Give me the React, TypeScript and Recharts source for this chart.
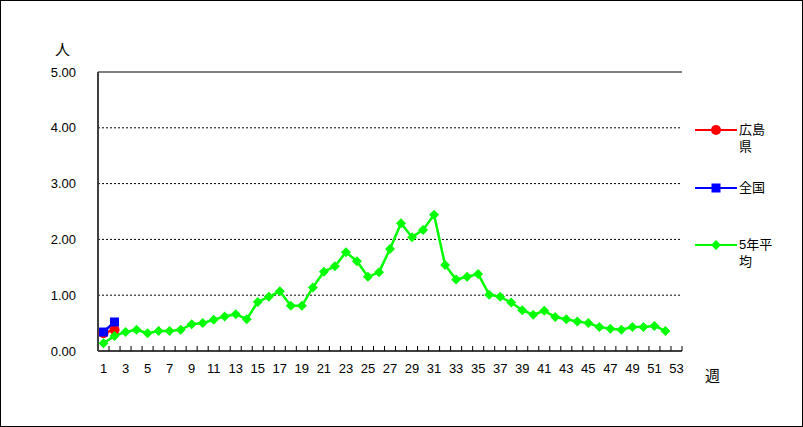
import { LineChart, Line, XAxis, YAxis, CartesianGrid, ReferenceLine } from "recharts";

const weeks = Array.from({ length: 53 }, (_, i) => i + 1);
const hiroshima = [0.32, 0.38];
const zenkoku = [0.34, 0.52];
const avg5 = [
  0.14, 0.27, 0.34, 0.38, 0.32, 0.36, 0.36, 0.38, 0.48, 0.5,
  0.56, 0.62, 0.66, 0.57, 0.88, 0.97, 1.07, 0.81, 0.81, 1.14,
  1.42, 1.52, 1.77, 1.61, 1.33, 1.41, 1.83, 2.29, 2.04, 2.17,
  2.44, 1.54, 1.28, 1.33, 1.38, 1.01, 0.97, 0.87, 0.73, 0.65,
  0.72, 0.61, 0.57, 0.53, 0.5, 0.43, 0.4, 0.38, 0.43, 0.43,
  0.45, 0.36,
];
const yTicks = [0, 1, 2, 3, 4, 5];

const seriesInfo = [
  { key: "hiroshima", name: "広島県", color: "#ff0000", shape: "circle" },
  { key: "zenkoku", name: "全国", color: "#0000ff", shape: "square" },
  { key: "avg5", name: "5年平均", color: "#00ff00", shape: "diamond" },
];

const data = weeks.map((w, i) => ({
  week: w,
  hiroshima: hiroshima[i] ?? null,
  zenkoku: zenkoku[i] ?? null,
  avg5: avg5[i] ?? null,
}));

const font = "'Liberation Sans', 'Noto Sans CJK JP', sans-serif";
const plotW = 584;

function Marker({ cx, cy, shape, color }: any) {
  if (cx == null || cy == null) return null;
  if (shape === "circle") return <circle cx={cx} cy={cy} r={5} fill={color} />;
  if (shape === "square") return <rect x={cx - 4.5} y={cy - 4.5} width={9} height={9} fill={color} />;
  return <polygon points={`${cx},${cy - 5} ${cx + 5},${cy} ${cx},${cy + 5} ${cx - 5},${cy}`} fill={color} />;
}

const XTick = (props: any) => {
  const { x, y, payload } = props;
  const bw = plotW / 53;
  const v = payload.value;
  return (
    <g>
      <line x1={x + bw / 2} x2={x + bw / 2} y1={y - 5} y2={y} stroke="#000" />
      {v % 2 === 1 && (
        <text x={x} y={y + 22} textAnchor="middle" fontSize={13} fill="#000" fontFamily={font}>
          {v}
        </text>
      )}
    </g>
  );
};

const LegendBox = () => (
  <div style={{ position: "absolute", left: 694, top: 120, fontFamily: font, fontSize: 13, color: "#000" }}>
    {seriesInfo.map((s, i) => (
      <div key={s.key} style={{ display: "flex", alignItems: "flex-start", height: i === 2 ? 40 : 57.5 }}>
        <svg width={44} height={12} style={{ marginTop: 3 }}>
          <line x1={0} x2={42} y1={6} y2={6} stroke={s.color} strokeWidth={2} />
          <Marker cx={21} cy={6} shape={s.shape} color={s.color} />
        </svg>
        <div style={{ width: 34, lineHeight: "17px", wordBreak: "break-all" }}>{s.name}</div>
      </div>
    ))}
  </div>
);

export default function App() {
  return (
    <div
      style={{
        position: "absolute",
        left: 0,
        top: 0,
        width: 803,
        height: 427,
        border: "1px solid #000",
        boxSizing: "border-box",
        background: "#fff",
        fontFamily: font,
      }}
    >
      <div style={{ position: "absolute", left: 54, top: 37, fontSize: 15 }}>人</div>
      <div style={{ position: "absolute", left: 704, top: 363, fontSize: 15 }}>週</div>
      <LineChart width={801} height={425} data={data} margin={{ top: 71, right: 120, bottom: 45, left: 37 }}>
        <CartesianGrid vertical={false} stroke="#000" strokeDasharray="2 2" />
        <XAxis
          dataKey="week"
          scale="band"
          interval={0}
          tickSize={0}
          tickMargin={0}
          tickLine={false}
          height={30}
          tick={<XTick />}
          axisLine={{ stroke: "#404040", strokeWidth: 2 }}
        />
        <YAxis
          domain={[0, 5]}
          ticks={yTicks}
          width={60}
          tickLine={false}
          tickMargin={16}
          tickFormatter={(v: number) => v.toFixed(2)}
          tick={{ fill: "#000", fontSize: 13, fontFamily: font }}
          axisLine={{ stroke: "#404040", strokeWidth: 2 }}
        />
        <YAxis yAxisId="r" orientation="right" width={0} tick={false} tickLine={false} axisLine={{ stroke: "#808080", strokeWidth: 2 }} />
        <ReferenceLine y={5} stroke="#808080" strokeWidth={2} />
        {seriesInfo.map((s) => (
          <Line
            key={s.key}
            dataKey={s.key}
            name={s.name}
            stroke={s.color}
            strokeWidth={2.5}
            isAnimationActive={false}
            connectNulls={false}
            dot={(p: any) => <Marker key={`${s.key}-${p.index}`} cx={p.cx} cy={p.cy} shape={s.shape} color={s.color} />}
            activeDot={false}
          />
        ))}
      </LineChart>
      <LegendBox />
    </div>
  );
}
